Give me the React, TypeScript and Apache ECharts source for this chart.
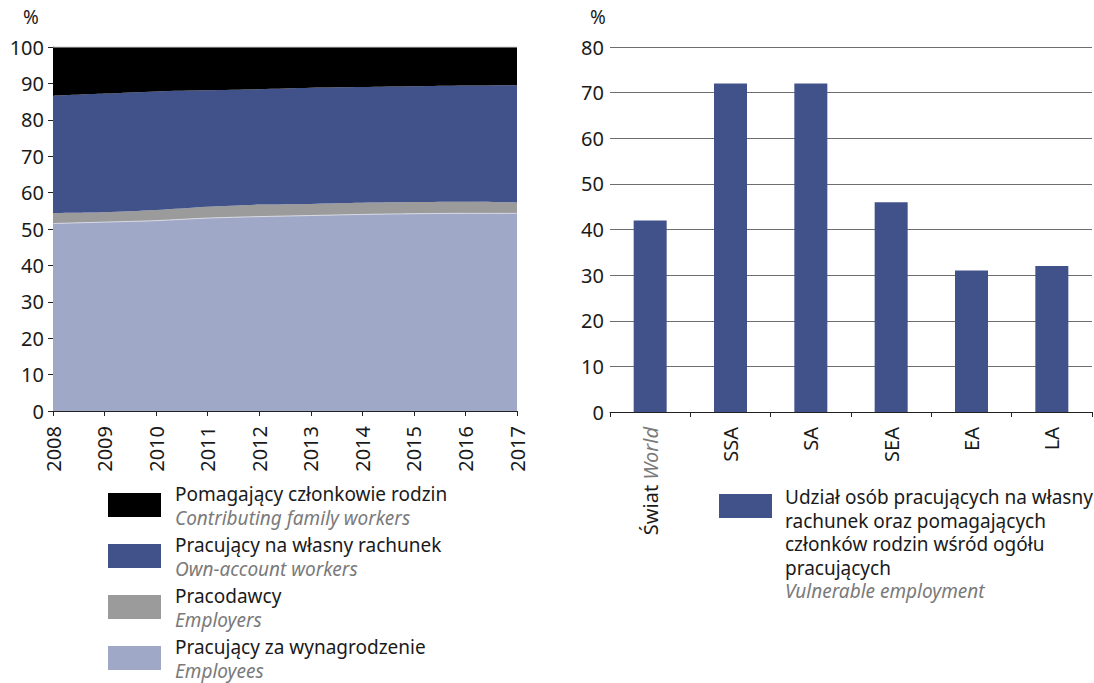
import React, { useEffect, useRef } from "react";
import * as echarts from "echarts";

const years = ["2008", "2009", "2010", "2011", "2012", "2013", "2014", "2015", "2016", "2017"];
const employees = [51.5, 51.9, 52.3, 53.0, 53.4, 53.7, 54.0, 54.2, 54.3, 54.3];
const employers = [2.9, 2.7, 2.9, 3.1, 3.3, 3.2, 3.2, 3.2, 3.2, 3.0];
const ownAccount = [32.2, 32.6, 32.6, 32.0, 31.7, 31.9, 31.8, 31.8, 31.9, 32.2];
const familyWorkers = [13.4, 12.8, 12.2, 11.9, 11.6, 11.2, 11.0, 10.8, 10.6, 10.5];

const regions = ["Świat World", "SSA", "SA", "SEA", "EA", "LA"];
const vulnerable = [42, 72, 72, 46, 31, 32];

const leftLegend = [
  { pl: "Pomagający członkowie rodzin", en: "Contributing family workers", color: "#000000" },
  { pl: "Pracujący na własny rachunek", en: "Own-account workers", color: "#41528b" },
  { pl: "Pracodawcy", en: "Employers", color: "#9b9b9b" },
  { pl: "Pracujący za wynagrodzenie", en: "Employees", color: "#a0a8c7" },
];
const rightLegendLines = [
  "Udział osób pracujących na własny",
  "rachunek oraz pomagających",
  "członków rodzin wśród ogółu",
  "pracujących",
];
const rightLegendEn = "Vulnerable employment";

const FONT = "Noto Sans";
const DARK = "#1a1a1a";
const GREY_TXT = "#7a7a7a";

export default function App() {
  const ref = useRef<HTMLDivElement>(null);
  useEffect(() => {
    if (!ref.current) return;
    const chart = echarts.init(ref.current, undefined, { renderer: "svg" });

    const txt = (x: number, y: number, text: string, italic: boolean) => ({
      type: "text",
      x,
      y,
      style: {
        text,
        font: `${italic ? "italic " : ""}19px "${FONT}"`,
        fill: italic ? GREY_TXT : DARK,
        verticalAlign: "middle",
        lineHeight: 20,
      },
    });

    const graphics: any[] = [];
    graphics.push({ type: "text", left: 23, top: 7, style: { text: "%", font: `19px "${FONT}"`, fill: DARK } });
    graphics.push({ type: "text", left: 590, top: 7, style: { text: "%", font: `19px "${FONT}"`, fill: DARK } });
    leftLegend.forEach((it, i) => {
      const yc = 494 + i * 51;
      graphics.push({ type: "rect", shape: { x: 108, y: yc - 1, width: 53, height: 24 }, style: { fill: it.color } });
      graphics.push(txt(175, yc, it.pl, false));
      graphics.push(txt(175, yc + 23.6, it.en, true));
    });
    graphics.push({ type: "rect", shape: { x: 719, y: 494, width: 53, height: 24 }, style: { fill: "#41528b" } });
    rightLegendLines.forEach((t, i) => {
      graphics.push(txt(785, 497 + i * 23.6, t, false));
    });
    graphics.push(txt(785, 497 + 4 * 23.6, rightLegendEn, true));
    // faint top edge of the left plot area
    graphics.push({
      type: "line", shape: { x1: 53, y1: 47, x2: 517, y2: 47 },
      style: { stroke: "#cfcfcf", lineWidth: 1 }, z: 10,
    });

    const areaSeries = (name: string, data: number[], color: string, line: boolean) => ({
      name,
      type: "line",
      stack: "total",
      xAxisIndex: 0,
      yAxisIndex: 0,
      data,
      smooth: 0.3,
      symbol: "none",
      lineStyle: line ? { width: 1, color: "#d6d9e4" } : { width: 0 },
      areaStyle: { color, opacity: 1 },
      itemStyle: { color },
    });

    chart.setOption({
      animation: false,
      textStyle: { fontFamily: FONT },
      grid: [
        { left: 53, right: 577, top: 47, bottom: 272, containLabel: false },
        { left: 610, right: 2, top: 47, bottom: 271, containLabel: false },
      ],
      xAxis: [
        {
          gridIndex: 0,
          type: "category",
          data: years,
          boundaryGap: false,
          axisLine: { lineStyle: { color: "#222", width: 1 } },
          axisTick: { show: true, length: 5, lineStyle: { color: "#222" } },
          axisLabel: { rotate: 90, margin: 15, fontSize: 20, color: DARK, fontFamily: FONT, interval: 0 },
        },
        {
          gridIndex: 1,
          type: "category",
          data: regions,
          axisLine: { lineStyle: { color: "#222", width: 1 } },
          axisTick: { show: true, length: 5, alignWithLabel: false, lineStyle: { color: "#222" } },
          axisLabel: {
            rotate: 90,
            margin: 15,
            interval: 0,
            fontSize: 20,
            color: DARK,
            fontFamily: FONT,
            formatter: (v: string) => {
              const parts = v.split(" ");
              if (parts.length > 1) return `{a|${parts[0]}} {b|${parts[1]}}`;
              return `{a|${v}}`;
            },
            rich: {
              a: { fontSize: 20, color: DARK, fontFamily: FONT },
              b: { fontSize: 20, color: GREY_TXT, fontStyle: "italic", fontFamily: FONT },
            },
          },
        },
      ],
      yAxis: [
        {
          gridIndex: 0,
          type: "value",
          min: 0,
          max: 100,
          interval: 10,
          axisLine: { show: true, lineStyle: { color: "#222" } },
          axisTick: { show: true, length: 5, lineStyle: { color: "#222" } },
          splitLine: { show: false },
          axisLabel: { fontSize: 20, color: DARK, margin: 9, fontFamily: FONT },
        },
        {
          gridIndex: 1,
          type: "value",
          min: 0,
          max: 80,
          interval: 10,
          axisLine: { show: false },
          axisTick: { show: false },
          splitLine: { show: true, lineStyle: { color: "#6e6e6e", width: 1.2 } },
          axisLabel: { fontSize: 20, color: DARK, margin: 6, fontFamily: FONT },
        },
      ],
      series: [
        areaSeries("Pracujący za wynagrodzenie", employees, "#a0a8c7", true),
        areaSeries("Pracodawcy", employers, "#9b9b9b", false),
        areaSeries("Pracujący na własny rachunek", ownAccount, "#41528b", false),
        areaSeries("Pomagający członkowie rodzin", familyWorkers, "#000000", false),
        {
          name: "Vulnerable employment",
          type: "bar",
          xAxisIndex: 1,
          yAxisIndex: 1,
          data: vulnerable,
          barWidth: 33,
          itemStyle: { color: "#41528b" },
        },
      ],
      graphic: graphics,
    });
    return () => chart.dispose();
  }, []);
  return (
    <div
      ref={ref}
      style={{ position: "absolute", left: 0, top: 0, width: 1094, height: 683, background: "#fff" }}
    />
  );
}
